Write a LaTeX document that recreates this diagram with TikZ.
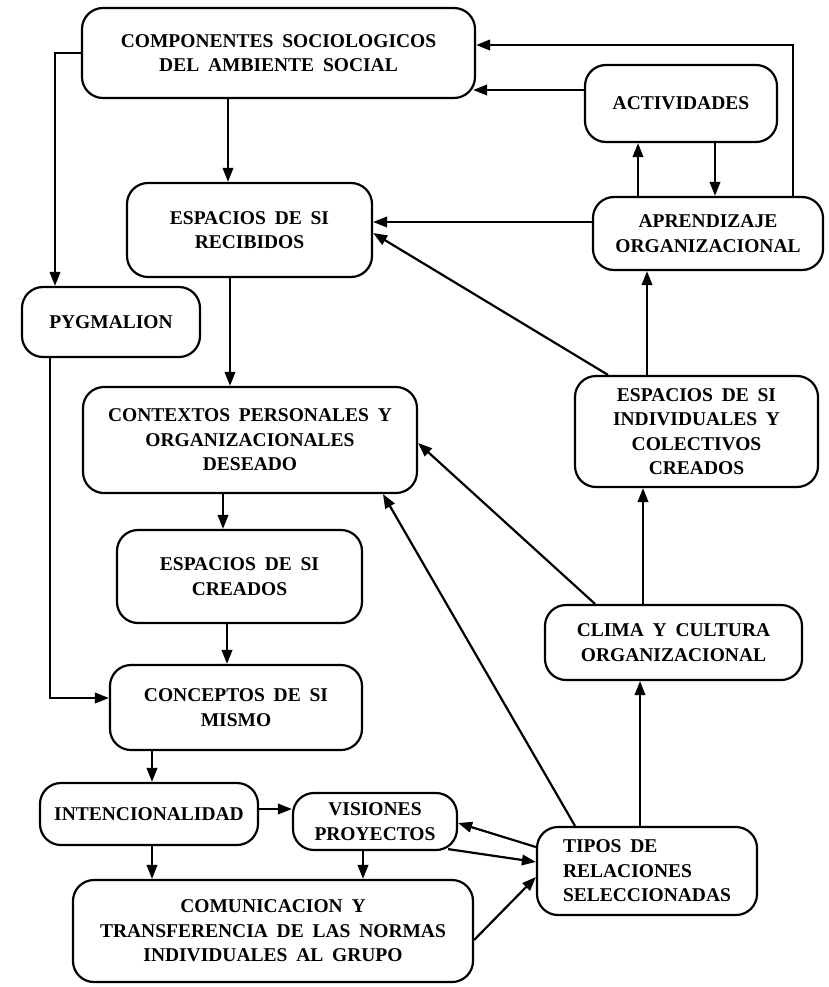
\documentclass[tikz,border=0pt]{standalone}
\usepackage{fontspec}
\setmainfont{Liberation Serif}
\usetikzlibrary{arrows.meta}
\newcommand\boxfont{\fontsize{19.5}{24.5}\selectfont\bfseries\spaceskip=0.45em plus 0.1em\relax}
\begin{document}
\begin{tikzpicture}[x=1pt,y=-1pt,
  box/.style={draw,line width=2.2pt,rounded corners=21pt,inner sep=0pt,
    align=center,font=\boxfont},
  arr/.style={line width=2.2pt,-{Triangle[length=14pt,width=10.5pt]}}]
\useasboundingbox (0,0) rectangle (829,987);

% concept boxes
\node[box,minimum width=393pt,minimum height=90pt] (comp) at (278.5,53)
  {COMPONENTES SOCIOLOGICOS\\DEL AMBIENTE SOCIAL};
\node[box,minimum width=245pt,minimum height=94pt] (esprec) at (249.5,230)
  {ESPACIOS DE SI\\RECIBIDOS};
\node[box,minimum width=178pt,minimum height=70pt] (pyg) at (111,322)
  {PYGMALION};
\node[box,minimum width=334pt,minimum height=106pt] (cont) at (250,440)
  {CONTEXTOS PERSONALES Y\\ORGANIZACIONALES\\DESEADO};
\node[box,minimum width=245pt,minimum height=93pt] (espcre) at (239.5,576.5)
  {ESPACIOS DE SI\\CREADOS};
\node[box,minimum width=252pt,minimum height=85pt] (conc) at (236,707.5)
  {CONCEPTOS DE SI\\MISMO};
\node[box,minimum width=218pt,minimum height=62pt] (inten) at (149,814)
  {INTENCIONALIDAD};
\node[box,minimum width=164pt,minimum height=57pt] (vis) at (375,821.5)
  {VISIONES\\PROYECTOS};
\node[box,minimum width=400pt,minimum height=102pt] (comu) at (273,931)
  {COMUNICACION Y\\TRANSFERENCIA DE LAS NORMAS\\INDIVIDUALES AL GRUPO};
\node[box,align=left,minimum width=220pt,minimum height=88pt] (tipos) at (647,871)
  {TIPOS DE\\RELACIONES\\SELECCIONADAS};
\node[box,minimum width=257pt,minimum height=75pt] (clima) at (673.5,642.5)
  {CLIMA Y CULTURA\\ORGANIZACIONAL};
\node[box,minimum width=243pt,minimum height=111pt] (espind) at (696.5,431.5)
  {ESPACIOS DE SI\\INDIVIDUALES Y\\COLECTIVOS\\CREADOS};
\node[box,minimum width=230pt,minimum height=73pt] (apr) at (708,233.5)
  {APRENDIZAJE\\ORGANIZACIONAL};
\node[box,minimum width=192pt,minimum height=77pt] (act) at (681,103.5)
  {ACTIVIDADES};

% left column
\draw[arr] (comp.west) -| ([xshift=-56pt]pyg.north);
\draw[arr] (comp.south -| 228,0) -- (esprec.north -| 228,0);
\draw[arr] (esprec.south -| 230,0) -- (cont.north -| 230,0);
\draw[arr] (pyg.south -| 50,0) |- (conc.west |- 0,698);
\draw[arr] (cont.south -| 223,0) -- (espcre.north -| 223,0);
\draw[arr] (espcre.south -| 227,0) -- (conc.north -| 227,0);
\draw[arr] (conc.south -| 152,0) -- (inten.north -| 152,0);
\draw[arr] (inten.east |- 0,809) -- (vis.west |- 0,809);
\draw[arr] (inten.south -| 152,0) -- (comu.north -| 152,0);
\draw[arr] (vis.south -| 363,0) -- (comu.north -| 363,0);

% links around the selected relations
\draw[arr] (tipos.west |- 0,847) -- (vis.east |- 0,823);
\draw[arr] ([xshift=-10pt,yshift=2pt]vis.south east) -- (tipos.west |- 0,862);
\draw[arr] (comu.east |- 0,940) -- (tipos.west |- 0,877);
\draw[arr] (tipos.north -| 575,0) -- (cont.south -| 383,0);
\draw[arr] (tipos.north -| 640,0) -- (clima.south -| 640,0);

% right column
\draw[arr] (clima.north -| 595,0) -- (cont.east |- 0,443);
\draw[arr] (clima.north -| 643,0) -- (espind.south -| 643,0);
\draw[arr] (espind.north -| 647,0) -- (apr.south -| 647,0);
\draw[arr] (espind.north -| 608,0) -- (esprec.east |- 0,233);
\draw[arr] (apr.west |- 0,222) -- (esprec.east |- 0,222);
\draw[arr] (apr.north -| 638,0) -- (act.south -| 638,0);
\draw[arr] (act.south -| 715,0) -- (apr.north -| 715,0);
\draw[arr] (act.west |- 0,90) -- ([xshift=-3pt]comp.east |- 0,90);
\draw[arr] (apr.north -| 793,0) |- (comp.east |- 0,45);
\end{tikzpicture}
\end{document}
